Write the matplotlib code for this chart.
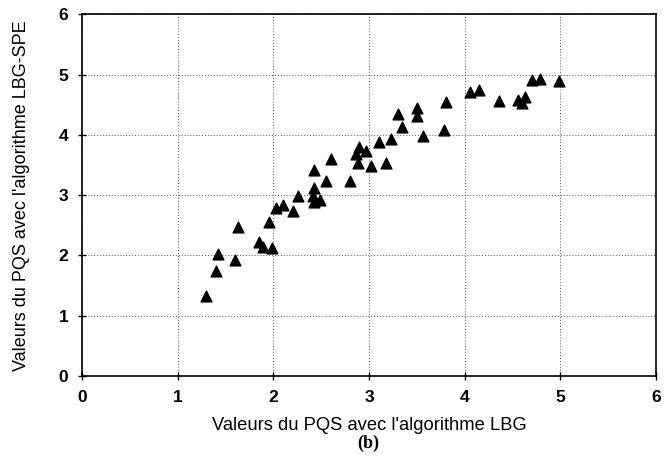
import matplotlib
matplotlib.use('Agg')
import matplotlib.pyplot as plt

pqs_lbg = [1.30, 1.40, 1.42, 1.60, 1.63, 1.85, 1.89, 1.99, 1.95, 2.03, 2.10, 2.21,
           2.26, 2.41, 2.42, 2.49, 2.43, 2.55, 2.43, 2.60, 2.80, 2.90, 2.86, 2.97,
           2.89, 3.02, 3.10, 3.18, 3.23, 3.30, 3.34, 3.50, 3.50, 3.56, 3.78, 3.80,
           4.06, 4.15, 4.36, 4.56, 4.63, 4.60, 4.70, 4.79, 4.99]
pqs_spe = [1.33, 1.75, 2.02, 1.93, 2.47, 2.23, 2.14, 2.12, 2.56, 2.79, 2.83, 2.73,
           2.99, 2.98, 2.88, 2.92, 3.12, 3.23, 3.42, 3.60, 3.24, 3.80, 3.69, 3.74,
           3.53, 3.49, 3.88, 3.53, 3.93, 4.34, 4.14, 4.45, 4.31, 3.99, 4.09, 4.54,
           4.71, 4.74, 4.57, 4.58, 4.63, 4.53, 4.91, 4.93, 4.89]
ticks = [0, 1, 2, 3, 4, 5, 6]

plt.rcParams['font.family'] = ['Liberation Sans', 'DejaVu Sans']

fig = plt.figure(figsize=(6.68, 4.63), dpi=100)
ax = fig.add_axes([0.1228, 0.188, 0.8592, 0.7807])

ax.scatter(pqs_lbg, pqs_spe, marker='^', s=60, color='black', zorder=3)

ax.set_xlim(0, 6)
ax.set_ylim(0, 6)
ax.set_xticks(ticks)
ax.set_yticks(ticks)
ax.grid(True, linestyle=(0, (1, 2)), color='#555555', linewidth=0.7)
ax.tick_params(direction='inout', length=6, width=1, labelsize=12.5, pad=7)
for lab in ax.get_xticklabels() + ax.get_yticklabels():
    lab.set_fontweight('bold')
for sp in ax.spines.values():
    sp.set_linewidth(1.2)

ax.set_xlabel("Valeurs du PQS avec l'algorithme LBG", fontsize=13.2, labelpad=9)
ax.yaxis.set_label_coords(-0.090, 0.5)
ax.set_ylabel("Valeurs du PQS avec l'algorithme LBG-SPE", fontsize=13.0)
fig.text(0.551, 0.043, '(b)', family='Liberation Serif', fontweight='bold',
         fontsize=13, ha='center', va='center')

fig.savefig('out.png', dpi=100)
